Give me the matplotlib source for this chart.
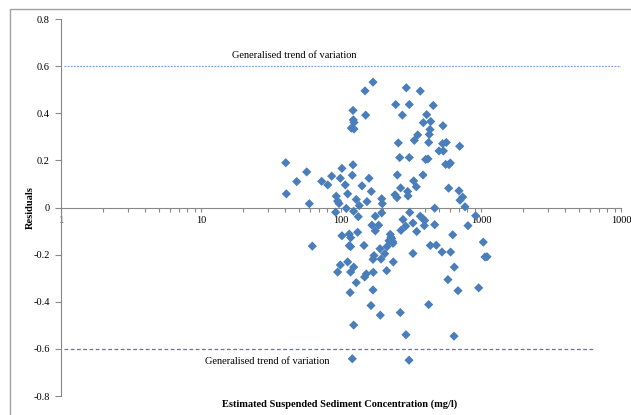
import numpy as np
import matplotlib
matplotlib.use('Agg')
import matplotlib.pyplot as plt
from matplotlib.patches import Rectangle
from matplotlib.ticker import FixedLocator, NullFormatter

plt.rcParams['font.family'] = ['Liberation Serif', 'DejaVu Serif']

# residuals above / around zero
ssc_pos = [40.3, 40.7, 48.3, 56.9, 59.4, 72.8, 80.4, 85.8, 92.5, 94.6, 96.8, 98.9,
           101.6, 107.3, 109.1, 111.6, 120.4, 121.8, 121.8, 122.4, 123.8, 118.5,
           123.8, 128.5, 135.1, 141.3, 148.4, 150.1, 153.4, 158.5, 164.6, 169.3,
           195.4, 197.2, 245.9, 256.6, 252.5, 262.6, 243.2, 251.2, 266.7, 274.2,
           292.7, 307.5, 307.5, 299.2, 301.2, 330.6, 345.1, 334.0, 353.1, 368.3,
           385.3, 387.2, 409.4, 437.5, 432.3, 427.1, 422.9, 402.5, 418.1, 456.0,
           466.8, 501.2, 535.0, 532.0, 564.9, 538.3, 559.5, 590.7, 603.7, 587.4,
           696.6, 704.2, 707.9, 739.8, 768.6]
res_pos = [0.19, 0.058, 0.11, 0.151, 0.016, 0.111, 0.096, 0.133, 0.048, 0.027, 0.017, 0.124,
           0.166, 0.096, -0.004, 0.058, 0.137, 0.181, 0.412, 0.372, 0.361, 0.337,
           0.333, 0.034, 0.008, 0.092, 0.495, 0.392, 0.025, 0.124, 0.068, 0.532,
           0.037, 0.016, 0.437, 0.274, 0.138, 0.212, 0.054, 0.042, 0.083, 0.392,
           0.508, 0.437, 0.212, 0.068, 0.049, 0.113, 0.088, 0.285, 0.308, 0.494,
           0.138, 0.36, 0.394, 0.365, 0.331, 0.31, 0.276, 0.204, 0.206, 0.433,
           -0.003, 0.24, 0.347, 0.271, 0.276, 0.24, 0.183, 0.182, 0.189, 0.082,
           0.071, 0.26, 0.031, 0.044, 0.003]

# residuals below zero
ssc_neg = [91.6, 123.2, 132.9, 166.4, 175.8, 185.9, 175.8, 195.4, 101.6, 114.6, 117.2,
           131.5, 114.6, 117.2, 146.0, 62.4, 98.9, 111.6, 94.6, 117.2, 123.2, 128.5,
           116.2, 147.6, 151.6, 170.2, 169.3, 163.8, 190.9, 123.2, 120.4, 169.3,
           172.1, 190.0, 193.2, 205.3, 213.1, 211.9, 220.3, 225.0, 227.5, 230.2,
           234.0, 235.0, 236.3, 265.2, 268.3, 277.3, 289.8, 309.6, 291.1, 306.2,
           326.6, 326.6, 347.3, 368.3, 383.4, 396.2, 393.6, 422.9, 434.5, 466.8,
           479.2, 526.5, 580.6, 606.8, 628.1, 644.8, 641.6, 685.0, 807.1, 916.2,
           963.0, 1038.0, 1068.0, 1104.0]
res_neg = [-0.02, -0.016, -0.039, -0.075, -0.037, -0.075, -0.099, -0.023, -0.12, -0.113, -0.128,
           -0.105, -0.162, -0.166, -0.161, -0.164, -0.244, -0.231, -0.274, -0.274, -0.253, -0.319,
           -0.361, -0.295, -0.282, -0.275, -0.35, -0.416, -0.457, -0.499, -0.642, -0.22,
           -0.204, -0.175, -0.219, -0.196, -0.166, -0.268, -0.141, -0.114, -0.126, -0.132,
           -0.145, -0.152, -0.231, -0.446, -0.097, -0.051, -0.079, -0.021, -0.54, -0.648,
           -0.195, -0.066, -0.102, -0.037, -0.047, -0.055, -0.077, -0.412, -0.161, -0.073,
           -0.16, -0.189, -0.306, -0.189, -0.116, -0.253, -0.546, -0.353, -0.077, -0.035,
           -0.341, -0.147, -0.21, -0.209]

ssc = ssc_pos + ssc_neg
res = res_pos + res_neg

x_ticks = [1, 10, 100, 1000, 10000]
x_ticklabels = ['1', '10', '100', '1000', '1000']
y_ticks = [-0.8, -0.6, -0.4, -0.2, 0, 0.2, 0.4, 0.6, 0.8]
y_ticklabels = ['-0.8', '-0.6', '-0.4', '-0.2', '0', '0.2', '0.4', '0.6', '0.8']
trend = 0.6

fig = plt.figure(figsize=(6.31, 4.15), dpi=100)
fig.patches.append(Rectangle((10 / 631, -0.1), 1.2, 1 - 9 / 415 + 0.1,
                             transform=fig.transFigure, fill=False,
                             edgecolor='#a0a0a0', linewidth=1.0))
ax = fig.add_axes([61 / 631, 1 - 396 / 415, 560 / 631, 377 / 415])

ax.scatter(ssc, res, marker='D', s=22, color='#4a7ebb', edgecolors='none', zorder=3)

# trend lines
ax.plot([1.05, 10000], [trend, trend], color='#7fa6d6', linewidth=0.9,
        linestyle=(0, (1.5, 1)))
ax.plot([1.05, 6300], [-trend, -trend], color='#4a7ebb', linewidth=0.9,
        linestyle=(0, (3, 2)))
ax.text(46, trend + 0.025, 'Generalised trend of variation', fontsize=7.5,
        ha='center', va='bottom')
ax.text(29.6, -trend - 0.052, 'Generalised trend of variation', fontsize=7.5,
        ha='center', va='center')

ax.set_xscale('log')
ax.set_xlim(1, 10000)
ax.set_ylim(-0.8, 0.8)

for side in ['top', 'right']:
    ax.spines[side].set_visible(False)
ax.spines['bottom'].set_position(('data', 0))
ax.spines['left'].set_color('#888888')
ax.spines['bottom'].set_color('#888888')

ax.xaxis.set_major_locator(FixedLocator(x_ticks))
ax.set_xticklabels(x_ticklabels)
minors = [m * d for d in [1, 10, 100, 1000] for m in range(2, 10)]
ax.xaxis.set_minor_locator(FixedLocator(minors))
ax.xaxis.set_minor_formatter(NullFormatter())
ax.tick_params(axis='x', which='both', direction='out', length=3, width=0.8,
               color='#888888', labelsize=7.5, pad=3)
ax.set_yticks(y_ticks)
ax.set_yticklabels(y_ticklabels)
ax.tick_params(axis='y', direction='out', length=4, width=0.8,
               color='#888888', labelsize=7.5, pad=4)

for lab in ax.get_xticklabels():
    lab.set_clip_on(False)

fig.text(340 / 631, 1 - 404 / 415, 'Estimated Suspended Sediment Concentration (mg/l)',
         fontsize=7.5, fontweight='bold', ha='center', va='center')
fig.text(30 / 631, 1 - 208 / 415, 'Residuals', fontsize=7.5, fontweight='bold',
         rotation=90, ha='center', va='center')

fig.savefig('out.png', dpi=100)
